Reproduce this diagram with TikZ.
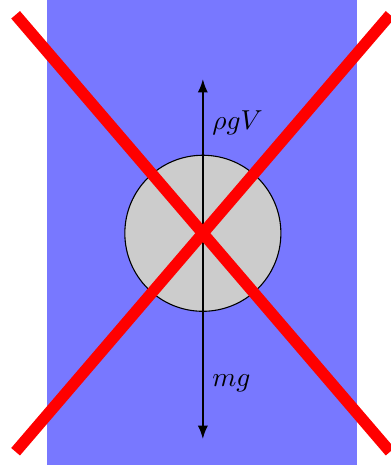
\documentclass[tikz,border=0pt]{standalone}
\usepackage{amsmath,amssymb}
\usetikzlibrary{arrows.meta}

\begin{document}
\begin{tikzpicture}[
    water/.style={fill=blue!53, draw=none},
    body/.style={circle, draw, thin, fill=black!20, minimum size=2cm, inner sep=0pt},
    force/.style={-{Latex[length=5pt]}, thick},
    lbl/.style={anchor=west, inner sep=1pt},
    cross/.style={red, line width=4.2pt}
]
\useasboundingbox (-2.6,-2.97) rectangle (2.4,2.99);
\fill[water] (-2,-3) rectangle (1.97,3);
\node[body] (ball) at (0,0) {};
\coordinate (up) at (0,1.98);
\coordinate (down) at (0,-2.64);
\draw[force] (ball.center) -- (up);
\draw[force] (ball.center) -- (down);
\node[lbl] (buoy) at (0.08,1.42) {$\rho g V$};
\node[lbl] (wt) at (0.08,-1.92) {$mg$};

% crossed out
\coordinate (tl) at (-2.4,2.8);
\coordinate (br) at (2.4,-2.8);
\coordinate (bl) at (-2.4,-2.8);
\coordinate (tr) at (2.4,2.8);
\draw[cross] (tl) -- (br);
\draw[cross] (bl) -- (tr);
\end{tikzpicture}
\end{document}
